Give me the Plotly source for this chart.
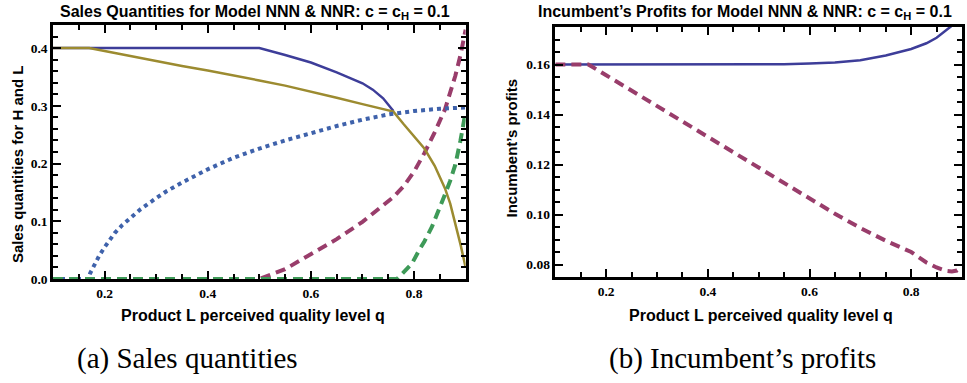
import plotly.graph_objects as go

# ---------- data: left panel (sales quantities) ----------
q_h_nnn = [0.10, 0.50, 0.55, 0.60, 0.65, 0.70, 0.72, 0.74, 0.76]
v_h_nnn = [0.400, 0.400, 0.388, 0.375, 0.358, 0.339, 0.328, 0.313, 0.291]

q_l_nnr_dash = [0.10, 0.50, 0.55, 0.60, 0.65, 0.70, 0.72, 0.74, 0.76, 0.78, 0.80, 0.82, 0.84, 0.86, 0.88, 0.89, 0.90]
v_l_nnr_dash = [0.0, 0.0, 0.017, 0.042, 0.069, 0.099, 0.113, 0.127, 0.142, 0.161, 0.186, 0.218, 0.254, 0.294, 0.352, 0.388, 0.432]

q_h_nnr = [0.10, 0.17, 0.20, 0.25, 0.30, 0.35, 0.40, 0.45, 0.50, 0.55, 0.60, 0.65, 0.70, 0.73, 0.76,
           0.78, 0.80, 0.82, 0.84, 0.86, 0.87, 0.88, 0.89, 0.90]
v_h_nnr = [0.400, 0.400, 0.395, 0.386, 0.378, 0.369, 0.361, 0.353, 0.344, 0.335, 0.325, 0.314, 0.303, 0.297, 0.290,
           0.268, 0.247, 0.226, 0.196, 0.157, 0.131, 0.097, 0.060, 0.020]

q_l_dot = [0.10, 0.168, 0.172, 0.18, 0.19, 0.20, 0.21, 0.22, 0.235, 0.25, 0.27, 0.30, 0.32, 0.35, 0.38, 0.40, 0.45, 0.50,
           0.55, 0.60, 0.65, 0.70, 0.75, 0.80, 0.85, 0.90]
v_l_dot = [0.0, 0.0, 0.010, 0.025, 0.041, 0.055, 0.068, 0.080, 0.094, 0.106, 0.121, 0.140, 0.152, 0.167, 0.181, 0.190,
           0.210, 0.226, 0.240, 0.253, 0.265, 0.276, 0.285, 0.291, 0.295, 0.297]

q_green = [0.10, 0.767, 0.78, 0.796, 0.81, 0.82, 0.835, 0.85, 0.861, 0.87, 0.88, 0.89, 0.90]
v_green = [0.0, 0.0, 0.012, 0.027, 0.050, 0.065, 0.091, 0.122, 0.149, 0.170, 0.198, 0.240, 0.290]

# ---------- data: right panel (incumbent's profits) ----------
q_prof_nnn = [0.10, 0.50, 0.55, 0.60, 0.65, 0.70, 0.75, 0.80, 0.83, 0.85, 0.87, 0.88, 0.90]
v_prof_nnn = [0.160, 0.160, 0.1601, 0.1604, 0.1608, 0.1617, 0.1636, 0.1662, 0.1685, 0.1707, 0.1737, 0.1755, 0.1795]

q_prof_nnr = [0.10, 0.165, 0.20, 0.25, 0.30, 0.35, 0.40, 0.45, 0.50, 0.55, 0.60, 0.65, 0.70, 0.75,
              0.80, 0.83, 0.85, 0.87, 0.88, 0.89, 0.90]
v_prof_nnr = [0.160, 0.160, 0.1557, 0.1495, 0.1433, 0.1371, 0.1309, 0.1247, 0.1185, 0.1124, 0.1063, 0.1003,
              0.0946, 0.0895, 0.0850, 0.0808, 0.0788, 0.0774, 0.0772, 0.0776, 0.0790]

# ---------- tick labels ----------
x_tickvals = [0.2, 0.4, 0.6, 0.8]
x_ticktext = ["0.2", "0.4", "0.6", "0.8"]
y1_tickvals = [0.0, 0.1, 0.2, 0.3, 0.4]
y1_ticktext = ["0.0", "0.1", "0.2", "0.3", "0.4"]
y2_tickvals = [0.08, 0.10, 0.12, 0.14, 0.16]
y2_ticktext = ["0.08", "0.10", "0.12", "0.14", "0.16"]

left_title = "<b>Sales Quantities for Model NNN &amp; NNR: c = c<sub>H</sub> = 0.1</b>"
right_title = "<b>Incumbent’s Profits for Model NNN &amp; NNR: c = c<sub>H</sub> = 0.1</b>"
x_title = "<b>Product L perceived quality level q</b>"
left_ytitle = "<b>Sales quantities for H and L</b>"
right_ytitle = "<b>Incumbent’s profits</b>"
cap_a = "(a) Sales quantities"
cap_b = "(b) Incumbent’s profits"

BLUE = "#3d3d99"
OLIVE = "#9c8b30"
MAGENTA = "#993d6b"
BLUE_DOT = "#3f62ab"
GREEN = "#3e9a58"

W, H = 967, 383
ML, MR, MT, MB = 53, 2, 25, 104          # margins in px
PW, PH = W - ML - MR, H - MT - MB        # plot area size

fig = go.Figure()

def add(x, y, color, width, dash, xa, ya):
    fig.add_trace(go.Scatter(x=x, y=y, mode="lines", xaxis=xa, yaxis=ya,
                             line=dict(color=color, width=width, dash=dash),
                             showlegend=False, hoverinfo="skip"))

add(q_h_nnn, v_h_nnn, BLUE, 2.5, "solid", "x", "y")
add(q_l_nnr_dash, v_l_nnr_dash, MAGENTA, 4, "10px,6px", "x", "y")
add(q_h_nnr, v_h_nnr, OLIVE, 2.5, "solid", "x", "y")
add(q_l_dot, v_l_dot, BLUE_DOT, 4, "dot", "x", "y")
add(q_green, v_green, GREEN, 4, "10px,6px", "x", "y")

add(q_prof_nnn, v_prof_nnn, BLUE, 2.5, "solid", "x2", "y2")
add(q_prof_nnr, v_prof_nnr, MAGENTA, 4, "10px,6px", "x2", "y2")

def bold(lst):
    return ["<b>" + s + "</b>" for s in lst]

tickfont = dict(family="Liberation Serif", size=13.5, color="black")
common = dict(showline=True, linewidth=2.5, linecolor="black", mirror="ticks", ticks="inside",
              ticklen=8, tickwidth=2, tickcolor="black", tickfont=tickfont, tickmode="array")

def minor(dtick):
    return dict(ticks="inside", ticklen=5, tickwidth=2, tickcolor="black", dtick=dtick, tick0=0)

def dom_x(a, b):
    return [(a - ML) / PW, (b - ML) / PW]

def dom_y(top, bottom):
    return [max(0.0, (H - MB - bottom) / PH), min(1.0, (H - MB - top) / PH)]

fig.update_layout(
    width=W, height=H, margin=dict(l=ML, r=MR, t=MT, b=MB),
    plot_bgcolor="white",
    xaxis=dict(domain=dom_x(53, 467), range=[0.1, 0.9], tickvals=x_tickvals, ticktext=bold(x_ticktext),
               minor=minor(0.05), anchor="y", **common),
    yaxis=dict(domain=dom_y(25, 279), range=[0, 0.44], tickvals=y1_tickvals, ticktext=bold(y1_ticktext),
               minor=minor(0.02), anchor="x", **common),
    xaxis2=dict(domain=dom_x(557, 965), range=[0.1, 0.9], tickvals=x_tickvals, ticktext=bold(x_ticktext),
                minor=minor(0.05), anchor="y2", **common),
    yaxis2=dict(domain=dom_y(27, 277), range=[0.075, 0.175], tickvals=y2_tickvals, ticktext=bold(y2_ticktext),
                minor=minor(0.005), anchor="x2", **common),
)

sans_b = dict(family="Liberation Sans", size=16, color="black")
sans_x = dict(family="Liberation Sans", size=16, color="black")
sans_y = dict(family="Liberation Sans", size=15, color="black")
serif_cap = dict(family="Liberation Serif", size=29, color="black")

def ann(text, x, y, font, angle=0):
    fig.add_annotation(text=text, x=(x - ML) / PW, y=(H - MB - y) / PH, xref="paper", yref="paper",
                       showarrow=False, font=font, textangle=angle, xanchor="center", yanchor="middle")

ann(left_title, 256, 12, sans_b)
ann(right_title, 747, 12, sans_b)
ann(x_title, 254, 315, sans_x)
ann(x_title, 763, 315, sans_x)
ann(left_ytitle, 17, 164, sans_y, -90)
ann(right_ytitle, 513, 148, sans_y, -90)
ann(cap_a, 188, 359, serif_cap)
ann(cap_b, 745, 359, serif_cap)

fig.write_html("out.html")
